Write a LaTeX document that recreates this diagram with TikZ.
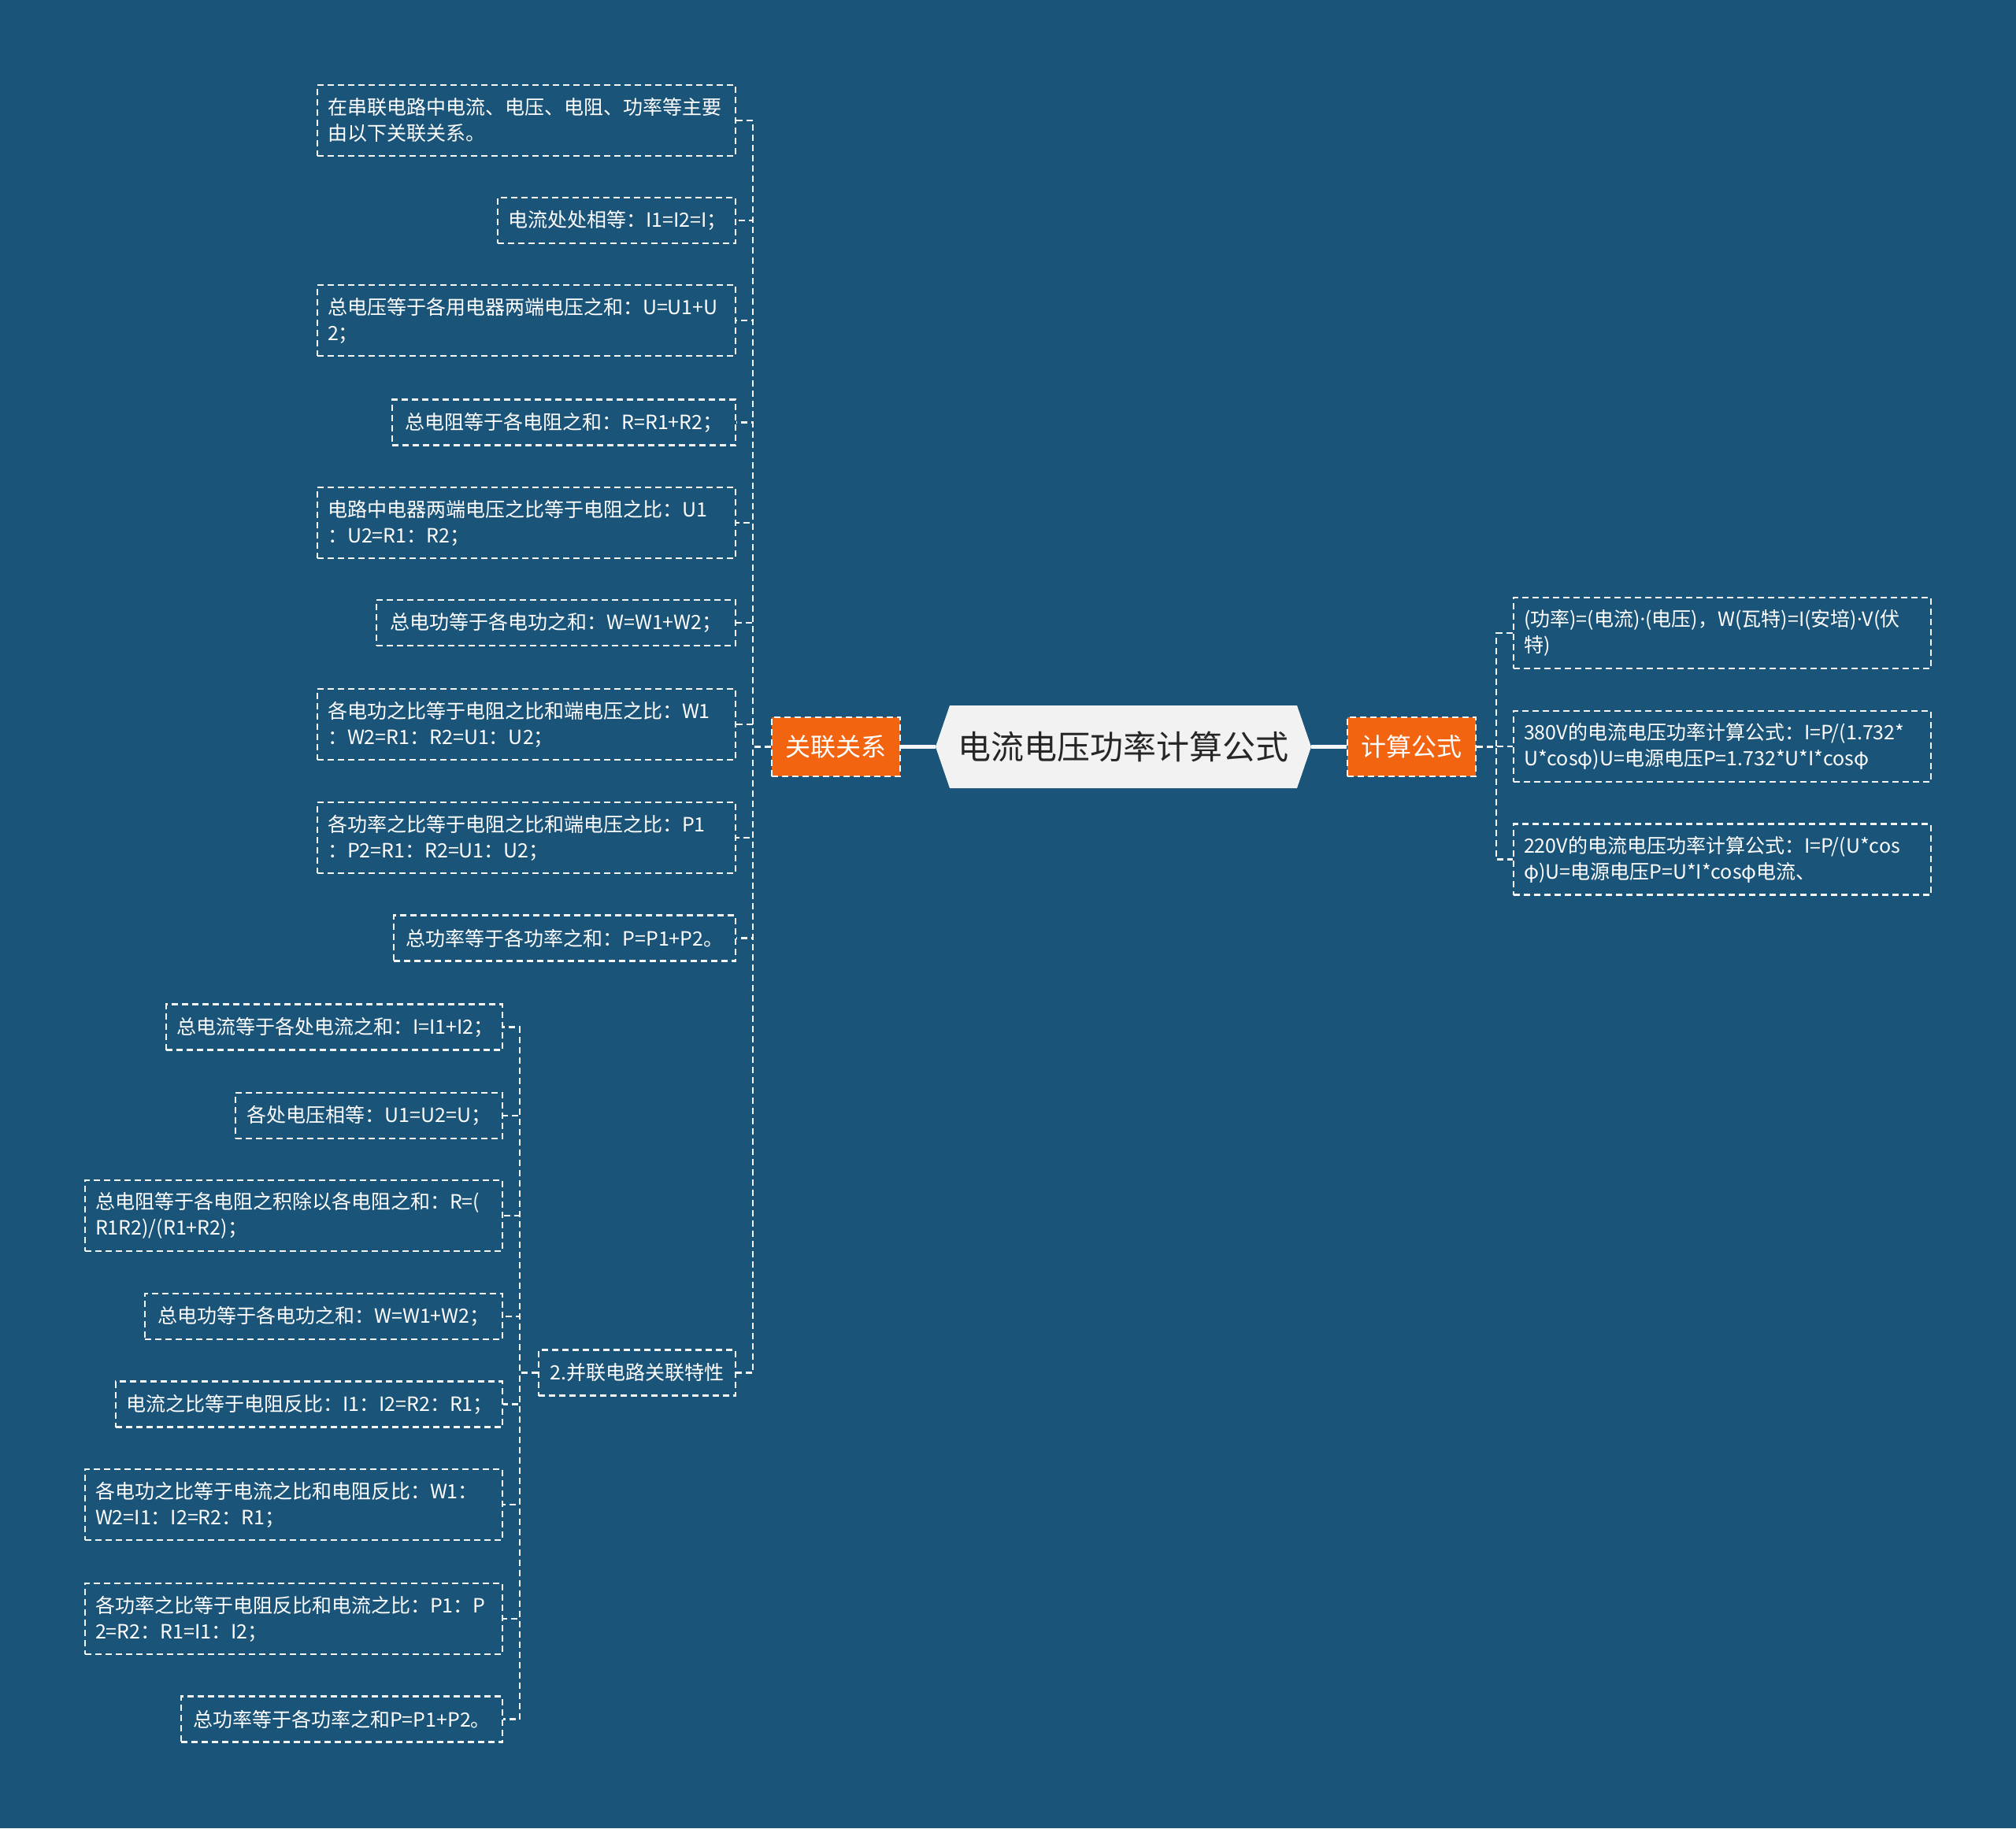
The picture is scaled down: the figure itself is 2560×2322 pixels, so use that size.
\documentclass[tikz,border=0pt]{standalone}
\usepackage{fontspec}
\setmainfont{Noto Sans CJK SC}
\newfontfamily\latinfont{Noto Sans}
\newcommand{\mdot}{{\latinfont ·}}
\definecolor{bgblue}{HTML}{1B5479}
\definecolor{orangebox}{HTML}{F26410}
\definecolor{rootfill}{HTML}{F2F2F2}
\definecolor{linecol}{HTML}{F4F6F8}
\begin{document}
\begin{tikzpicture}[x=1pt,y=-1pt,
  leaf/.style={draw=linecol, line width=2.2pt, dash pattern=on 8pt off 5pt, text=white,
    font=\fontsize{25}{33}\selectfont, align=left, inner xsep=13pt, inner ysep=0pt},
  leafc/.style={leaf, align=center, minimum height=58pt},
  leafb/.style={leaf, minimum height=90pt},
  conn/.style={draw=linecol, line width=2.2pt, dash pattern=on 8pt off 5pt},
  main/.style={draw=linecol, line width=4.5pt},
  topic/.style={fill=orangebox, draw=linecol, line width=2pt, dash pattern=on 8pt off 5pt,
    text=white, font=\fontsize{32}{38}\selectfont, minimum width=163pt, minimum height=75pt, inner sep=0pt}]
\useasboundingbox (0,0) rectangle (2560,2322);
\fill[bgblue] (0,0) rectangle (2560,2322);

% root
\coordinate (rootW) at (1188,948.5);
\coordinate (rootE) at (1665,948.5);
\fill[rootfill] (rootW) -- (1206,896) -- (1647,896) -- (rootE) -- (1647,1001) -- (1206,1001) -- cycle;
\node[font=\fontsize{42}{50}\selectfont, text=black!85, inner sep=0pt] (root) at (1426.5,948.5) {电流电压功率计算公式};

% topics
\node[topic] (rel) at (1061.5,948.5) {关联关系};
\node[topic] (calc) at (1792.5,948.5) {计算公式};
\draw[main] (rel.east) -- (rootW);
\draw[main] (rootE) -- (calc.west);

% right side
\node[leafb, text width=504pt] (r1) at (2187,804) {(功率)=(电流)\mdot(电压)，W(瓦特)=I(安培)\mdot V(伏\\特)};
\node[leafb, text width=504pt] (r2) at (2187,948) {380V的电流电压功率计算公式：I=P/(1.732*\\U*cosφ)U=电源电压P=1.732*U*I*cosφ};
\node[leafb, text width=504pt] (r3) at (2187,1091.5) {220V的电流电压功率计算公式：I=P/(U*cos\\φ)U=电源电压P=U*I*cosφ电流、};
\foreach \n in {r1,r2,r3} \draw[conn] (calc.east) -- ++(25,0) |- (\n.west);

% left side
\node[leafb, text width=505pt] (c1) at (668.5,153) {在串联电路中电流、电压、电阻、功率等主要\\由以下关联关系。};
\node[leafc, text width=276pt] (c2) at (783,280) {电流处处相等：I1=I2=I；};
\node[leafb, text width=505pt] (c3) at (668.5,407) {总电压等于各用电器两端电压之和：U=U1+U\\2；};
\node[leafc, text width=410pt] (c4) at (716,536.5) {总电阻等于各电阻之和：R=R1+R2；};
\node[leafb, text width=505pt] (c5) at (668.5,664) {电路中电器两端电压之比等于电阻之比：U1\\：U2=R1：R2；};
\node[leafc, text width=430pt] (c6) at (706,791) {总电功等于各电功之和：W=W1+W2；};
\node[leafb, text width=505pt] (c7) at (668.5,920) {各电功之比等于电阻之比和端电压之比：W1\\：W2=R1：R2=U1：U2；};
\node[leafb, text width=505pt] (c8) at (668.5,1064) {各功率之比等于电阻之比和端电压之比：P1\\：P2=R1：R2=U1：U2；};
\node[leafc, text width=408pt] (c9) at (717,1191.5) {总功率等于各功率之和：P=P1+P2。};
\node[leafc, text width=224pt] (c10) at (809,1743.5) {2.并联电路关联特性};
\foreach \n in {c1,c2,c3,c4,c5,c6,c7,c8,c9,c10} \draw[conn] (rel.west) -- ++(-23,0) |- (\n.east);

% grandchildren
\node[leafc, text width=401pt] (g1) at (424.5,1304.5) {总电流等于各处电流之和：I=I1+I2；};
\node[leafc, text width=313pt] (g2) at (468.5,1417) {各处电压相等：U1=U2=U；};
\node[leafb, text width=504pt] (g3) at (373,1544) {总电阻等于各电阻之积除以各电阻之和：R=(\\R1R2)/(R1+R2)；};
\node[leafc, text width=428pt] (g4) at (411,1672) {总电功等于各电功之和：W=W1+W2；};
\node[leafc, text width=465pt] (g5) at (392.5,1783.5) {电流之比等于电阻反比：I1：I2=R2：R1；};
\node[leafb, text width=504pt] (g6) at (373,1911) {各电功之比等于电流之比和电阻反比：W1：\\W2=I1：I2=R2：R1；};
\node[leafb, text width=504pt] (g7) at (373,2056) {各功率之比等于电阻反比和电流之比：P1：P\\2=R2：R1=I1：I2；};
\node[leafc, text width=382pt] (g8) at (434,2183.5) {总功率等于各功率之和P=P1+P2。};
\foreach \n in {g1,g2,g3,g4,g5,g6,g7,g8} \draw[conn] (c10.west) -- ++(-23,0) |- (\n.east);
\end{tikzpicture}
\end{document}
